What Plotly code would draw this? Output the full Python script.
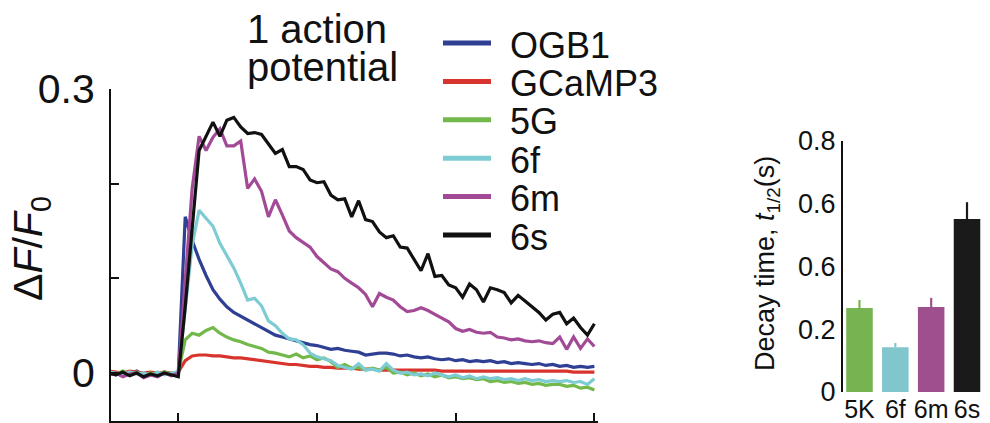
import numpy as np
import plotly.graph_objects as go

# ---------------- data ----------------
# sampling grid of the traces (s), 25 ms steps
time_s = np.round(np.arange(71) * 0.025 - 0.25, 3)

ogb1 = [0.001, -0.002, 0.0, -0.001, 0.002, -0.002, 0.0, -0.003, 0.001, -0.002, 0.0,
        0.165, 0.14, 0.12, 0.103, 0.088, 0.078, 0.07, 0.064, 0.06, 0.056,
        0.052, 0.048, 0.044, 0.04, 0.038, 0.036, 0.034, 0.032, 0.03, 0.029,
        0.027, 0.025, 0.026, 0.024, 0.023, 0.022, 0.019, 0.02, 0.021, 0.021,
        0.02, 0.018, 0.019, 0.017, 0.016, 0.017, 0.015, 0.014, 0.015, 0.013,
        0.014, 0.012, 0.013, 0.012, 0.013, 0.011, 0.012, 0.01, 0.011, 0.01,
        0.009, 0.01, 0.008, 0.009, 0.007, 0.008, 0.006, 0.007, 0.006, 0.007]

gcamp3 = [0.002, 0.001, 0.0, 0.002, 0.001, 0.0, 0.001, 0.0, 0.001, 0.0, 0.001,
          0.013, 0.018, 0.019, 0.019, 0.018, 0.018, 0.017, 0.016, 0.016, 0.015,
          0.014, 0.013, 0.012, 0.011, 0.01, 0.009, 0.009, 0.008, 0.007, 0.007,
          0.006, 0.006, 0.005, 0.005, 0.005, 0.004, 0.004, 0.004, 0.003, 0.003,
          0.003, 0.003, 0.003, 0.003, 0.003, 0.003, 0.003, 0.002, 0.002, 0.002,
          0.002, 0.002, 0.002, 0.002, 0.002, 0.002, 0.002, 0.002, 0.002, 0.002,
          0.002, 0.002, 0.002, 0.002, 0.002, 0.002, 0.001, 0.001, 0.001, 0.001]

g5 = [0.0, -0.001, 0.002, -0.002, 0.001, -0.003, 0.0, -0.002, 0.001, -0.001, 0.001,
      0.035, 0.042, 0.04, 0.045, 0.048, 0.042, 0.038, 0.035, 0.033, 0.03,
      0.028, 0.026, 0.022, 0.021, 0.019, 0.017, 0.02, 0.016, 0.018, 0.014,
      0.016, 0.012, 0.006, 0.009, 0.005, 0.006, 0.003, 0.005, 0.003, 0.006,
      0.0, 0.001, -0.002, 0.0, -0.003, -0.001, -0.004, -0.002, -0.005, -0.004,
      -0.006, -0.005, -0.007, -0.006, -0.009, -0.008, -0.01, -0.009, -0.011, -0.01,
      -0.012, -0.011, -0.013, -0.012, -0.012, -0.014, -0.013, -0.016, -0.015, -0.018]

g6f = [0.001, 0.0, -0.002, 0.001, -0.001, 0.0, -0.003, 0.001, -0.002, 0.0, 0.001,
       0.07, 0.135, 0.172, 0.163, 0.155, 0.137, 0.124, 0.111, 0.095, 0.077,
       0.079, 0.071, 0.055, 0.05, 0.042, 0.036, 0.035, 0.03, 0.021, 0.017,
       0.015, 0.013, 0.008, 0.006, 0.004, 0.01, 0.003, 0.004, 0.002, 0.01,
       0.003, 0.0, 0.001, -0.002, -0.001, -0.003, 0.0, -0.002, -0.004, -0.002,
       -0.005, -0.003, -0.006, -0.004, -0.006, -0.005, -0.007, -0.006, -0.008, -0.006,
       -0.008, -0.007, -0.009, -0.008, -0.009, -0.008, -0.01, -0.009, -0.012, -0.006]

g6m = [-0.002, 0.0, -0.004, -0.001, 0.0, -0.005, -0.002, -0.004, 0.0, -0.003, 0.0,
       0.095, 0.195, 0.25, 0.235, 0.249, 0.258, 0.24, 0.24, 0.245, 0.195,
       0.205, 0.192, 0.165, 0.183, 0.167, 0.15, 0.143, 0.138, 0.133, 0.123,
       0.116, 0.11, 0.107, 0.1, 0.095, 0.09, 0.083, 0.07, 0.084, 0.08,
       0.077, 0.07, 0.065, 0.066, 0.069, 0.066, 0.062, 0.058, 0.054, 0.047,
       0.044, 0.046, 0.043, 0.042, 0.043, 0.038, 0.037, 0.035, 0.036, 0.034,
       0.033, 0.034, 0.032, 0.031, 0.038, 0.025, 0.038, 0.026, 0.036, 0.028]

g6s = [0.0, -0.002, 0.001, -0.003, 0.0, -0.004, -0.001, -0.003, 0.0, -0.002, -0.004,
       0.07, 0.155, 0.235, 0.25, 0.265, 0.25, 0.267, 0.27, 0.26, 0.253,
       0.254, 0.252, 0.242, 0.232, 0.236, 0.218, 0.218, 0.215, 0.204, 0.201,
       0.202, 0.188, 0.183, 0.184, 0.165, 0.182, 0.162, 0.16, 0.149, 0.143,
       0.145, 0.133, 0.132, 0.12, 0.108, 0.126, 0.102, 0.103, 0.093, 0.09,
       0.08, 0.094, 0.088, 0.075, 0.09, 0.088, 0.085, 0.074, 0.082, 0.076,
       0.07, 0.064, 0.056, 0.062, 0.064, 0.052, 0.058, 0.048, 0.04, 0.052]

trace_names = ["OGB1", "GCaMP3", "5G", "6f", "6m", "6s"]
trace_colors = ["#2E3F94", "#D8332C", "#72B84A", "#7DCBD3", "#A24A96", "#111111"]
traces = [ogb1, gcamp3, g5, g6f, g6m, g6s]

bar_labels = ["5K", "6f", "6m", "6s"]
decay_t = [0.268, 0.143, 0.271, 0.551]
decay_err = [0.025, 0.013, 0.029, 0.054]
bar_colors = ["#76B451", "#80C6CC", "#9F4F8E", "#1A1A1A"]

left_ticks = [0, 0.3]
left_ticktext = ["0", "0.3"]
x_ticks = [0, 0.5, 1.0, 1.5]
bar_yticks = [0, 0.2, 0.4, 0.6, 0.8]
bar_yticktext = ["0", "0.2", "0.6", "0.6", "0.8"]

# ---------------- figure ----------------
W, H = 990, 423
FONT = "Liberation Sans, Arial, Helvetica, sans-serif"
INK = "#111111"

fig = go.Figure()

for name, col, ys in zip(trace_names, trace_colors, traces):
    fig.add_trace(go.Scatter(x=time_s, y=ys, mode="lines", name=name,
                             line=dict(color=col, width=3.2),
                             xaxis="x", yaxis="y", showlegend=False))

for lab, val, err, col in zip(bar_labels, decay_t, decay_err, bar_colors):
    fig.add_trace(go.Bar(x=[lab], y=[val], width=0.74, marker=dict(color=col, line=dict(width=0)),
                         error_y=dict(type="data", array=[err], arrayminus=[0], symmetric=False,
                                      color=col, thickness=2.2, width=0),
                         xaxis="x2", yaxis="y2", showlegend=False))

def px_x(p):
    return p / W

def px_y(p):
    return 1 - p / H

fig.update_layout(
    width=W, height=H,
    margin=dict(l=0, r=0, t=0, b=0, pad=0, autoexpand=False),
    paper_bgcolor="white", plot_bgcolor="white",
    barmode="overlay",
    font=dict(family=FONT, color=INK),
    xaxis=dict(domain=[px_x(111), px_x(598)], range=[-0.2426, 1.513],
               showline=True, linecolor=INK, linewidth=2,
               ticks="inside", ticklen=8, tickwidth=2, tickcolor=INK,
               tickvals=x_ticks, showticklabels=False, showgrid=False, zeroline=False,
               automargin=False, anchor="y"),
    yaxis=dict(domain=[px_y(421), px_y(89)], range=[-0.0507, 0.3],
               showline=True, linecolor=INK, linewidth=2,
               ticks="inside", ticklen=8, tickwidth=2, tickcolor=INK,
               tickvals=left_ticks, ticktext=left_ticktext,
               minor=dict(tickmode="linear", tick0=0, dtick=0.1, ticks="inside",
                          ticklen=8, tickwidth=2, tickcolor=INK, showgrid=False),
               tickfont=dict(size=41, family=FONT, color=INK),
               ticklabelstandoff=6, automargin=False,
               showgrid=False, zeroline=False, anchor="x"),
    xaxis2=dict(domain=[px_x(843), px_x(986)], range=[-0.46, 3.53],
                type="category", showline=False, ticks="", tickangle=0,
                tickfont=dict(size=25, family=FONT, color=INK),
                ticklabelstandoff=0,
                showgrid=False, zeroline=False, automargin=False, anchor="y2"),
    yaxis2=dict(domain=[px_y(392), px_y(141)], range=[0, 0.8],
                showline=True, linecolor=INK, linewidth=2,
                ticks="", tickvals=bar_yticks, ticktext=bar_yticktext,
                tickfont=dict(size=27, family=FONT, color=INK),
                showgrid=False, zeroline=False, automargin=False, anchor="x2"),
)

# axis titles
fig.add_annotation(x=px_x(31), y=px_y(249), xref="paper", yref="paper",
                   text="Δ<i>F</i>/<i>F</i><sub>0</sub>", textangle=-90, showarrow=False,
                   font=dict(size=41, family=FONT, color=INK),
                   xanchor="center", yanchor="middle")
fig.add_annotation(x=px_x(767), y=px_y(264), xref="paper", yref="paper",
                   text="Decay time, <i>t</i><sub>1/2</sub>(s)", textangle=-90, showarrow=False,
                   font=dict(size=27, family=FONT, color=INK),
                   xanchor="center", yanchor="middle")

# panel title
fig.add_annotation(x=px_x(245), y=px_y(29), xref="paper", yref="paper",
                   text="1 action", showarrow=False, xanchor="left", yanchor="middle",
                   font=dict(size=40, family=FONT, color=INK))
fig.add_annotation(x=px_x(245), y=px_y(67), xref="paper", yref="paper",
                   text="potential", showarrow=False, xanchor="left", yanchor="middle",
                   font=dict(size=40, family=FONT, color=INK))

# legend
leg_y0, leg_dy = 43, 38.4
for i, (name, col) in enumerate(zip(trace_names, trace_colors)):
    yc = leg_y0 + i * leg_dy
    fig.add_shape(type="line", xref="paper", yref="paper",
                  x0=px_x(443), x1=px_x(491), y0=px_y(yc), y1=px_y(yc),
                  line=dict(color=col, width=5))
    fig.add_annotation(x=px_x(508), y=px_y(yc + 2), xref="paper", yref="paper",
                       text=name, showarrow=False, xanchor="left", yanchor="middle",
                       font=dict(size=36, family=FONT, color=INK))

fig.write_html("out.html")
